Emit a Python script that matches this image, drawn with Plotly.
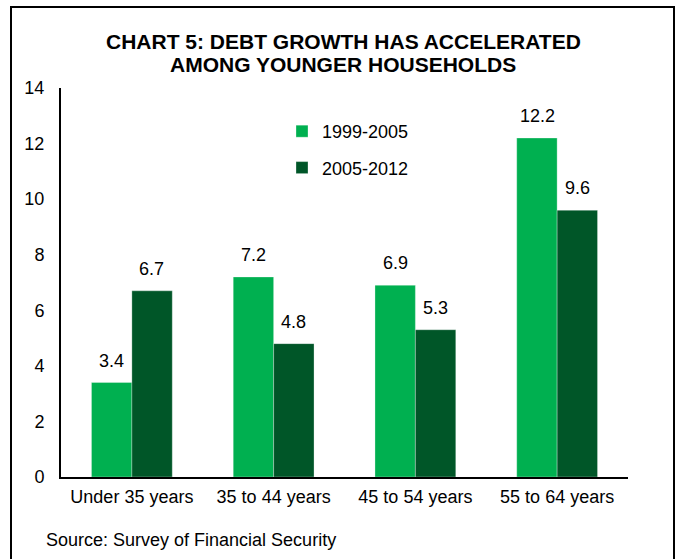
import plotly.graph_objects as go

categories = ["Under 35 years", "35 to 44 years", "45 to 54 years", "55 to 64 years"]
series_names = ["1999-2005", "2005-2012"]
values_1999_2005 = [3.4, 7.2, 6.9, 12.2]
values_2005_2012 = [6.7, 4.8, 5.3, 9.6]
y_ticks = [0, 2, 4, 6, 8, 10, 12, 14]
title_lines = ["CHART 5: DEBT GROWTH HAS ACCELERATED", "AMONG YOUNGER HOUSEHOLDS"]

colors = ["#00B050", "#005628"]
font_family = "Liberation Sans, Arial, sans-serif"

L, R, T, B = 61, 52, 88, 82
W, H = 680, 559
pw, ph = W - L - R, H - T - B

fig = go.Figure()
for name, vals, c in zip(series_names, [values_1999_2005, values_2005_2012], colors):
    fig.add_trace(go.Bar(
        name=name, x=categories, y=vals, legendgroup=name,
        marker=dict(color=c, line=dict(color="rgba(255,255,255,0.6)", width=0.5)),
    ))

def px_to_paper_x(px):
    return (px - L) / pw

def px_to_paper_y(py):
    return (H - B - py) / ph

# data labels
for k, vals in enumerate([values_1999_2005, values_2005_2012]):
    for cat, v in zip(categories, vals):
        fig.add_annotation(
            x=cat, y=v, xref="x", yref="y", text=f"{v:.1f}", showarrow=False,
            xanchor="center", yanchor="bottom", xshift=(-20 if k == 0 else 20),
            yshift=10, font=dict(size=18, color="#000000"),
        )

fig.update_layout(
    width=W, height=H,
    margin=dict(l=L, r=R, t=T, b=B),
    paper_bgcolor="white", plot_bgcolor="white",
    barmode="group", bargap=0.43, bargroupgap=0,
    font=dict(family=font_family, size=18, color="#000000"),
    xaxis=dict(
        showline=True, linecolor="#000000", linewidth=2, ticks="",
        showgrid=False, tickfont=dict(size=18), ticklabelstandoff=2,
    ),
    yaxis=dict(
        range=[0, 14], tickvals=y_ticks, showline=True, linecolor="#000000",
        linewidth=2, ticks="", showgrid=False, zeroline=False,
        tickfont=dict(size=18), ticklabelstandoff=11,
    ),
    legend=dict(
        x=px_to_paper_x(282), y=px_to_paper_y(113), xanchor="left", yanchor="top",
        font=dict(size=18), tracegroupgap=10, itemwidth=30,
        bgcolor="rgba(0,0,0,0)",
    ),
    showlegend=True,
)

for line, ypx in zip(title_lines, [42, 66]):
    fig.add_annotation(
        text=f"<b>{line}</b>", xref="paper", yref="paper",
        x=px_to_paper_x(343), y=px_to_paper_y(ypx - 1), xanchor="center", yanchor="middle",
        showarrow=False, font=dict(size=21, color="#000000"),
    )

fig.add_annotation(
    text="Source: Survey of Financial Security", xref="paper", yref="paper",
    x=px_to_paper_x(44), y=px_to_paper_y(540), xanchor="left", yanchor="middle",
    showarrow=False, font=dict(size=18),
)

fig.add_shape(
    type="path", xref="paper", yref="paper",
    path=f"M {px_to_paper_x(11)} {px_to_paper_y(600)} L {px_to_paper_x(11)} {px_to_paper_y(7)} "
         f"L {px_to_paper_x(674)} {px_to_paper_y(7)} L {px_to_paper_x(674)} {px_to_paper_y(600)}",
    line=dict(color="#000000", width=2),
)

fig.write_html("out.html")
